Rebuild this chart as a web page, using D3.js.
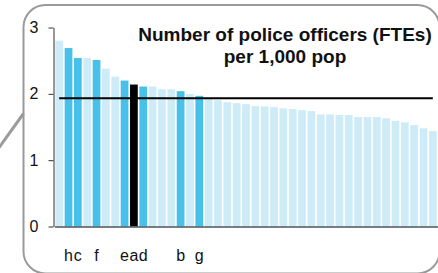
<!DOCTYPE html>
<html><head><meta charset="utf-8">
<script src="https://cdn.jsdelivr.net/npm/d3@7"></script>
<style>
html,body{margin:0;padding:0;background:#fff;}
svg{display:block;font-family:"Liberation Sans",Arial,sans-serif;}
</style></head>
<body>
<svg id="chart" width="438" height="273"></svg>
<script>
// Data
const values = [2.80,2.69,2.54,2.54,2.51,2.38,2.26,2.20,2.14,2.11,2.11,2.07,2.07,2.04,2.00,1.97,1.93,1.905,1.875,1.86,1.845,1.815,1.81,1.80,1.78,1.77,1.755,1.74,1.69,1.69,1.68,1.68,1.65,1.65,1.65,1.63,1.59,1.57,1.53,1.48,1.44];
const labels = ["","h","c","","f","","","e","a","d","","","","b","","g","","","","","","","","","","","","","","","","","","","","","","","","",""];
const groups = ["other","hl","hl","other","hl","other","other","hl","focus","hl","other","other","other","hl","other","hl","other","other","other","other","other","other","other","other","other","other","other","other","other","other","other","other","other","other","other","other","other","other","other","other","other"];
const average = 1.935;
const yTicks = [0,1,2,3];
const titleLines = ["Number of police officers (FTEs)","per 1,000 pop"];

const colors = {other:"#cdecf8", hl:"#48c1ea", focus:"#000000"};

const svg = d3.select("#chart");
const idx = d3.range(values.length);

const x = d3.scaleBand().domain(idx).range([54.5, 437.5]).paddingInner(0.17).paddingOuter(0.085);
const y = d3.scaleLinear().domain([0,3]).range([226.5, 27.5]);

// frame
svg.append("rect").attr("x",23.5).attr("y",5).attr("width",416).attr("height",268.5)
  .attr("rx",22).attr("fill","none").attr("stroke","#9a9a9a").attr("stroke-width",2);
// connector
svg.append("line").attr("x1",-2).attr("y1",149).attr("x2",23.5).attr("y2",113.5)
  .attr("stroke","#9a9a9a").attr("stroke-width",3);

// bars
svg.append("g").selectAll("rect").data(idx).join("rect")
  .attr("x", i => x(i)).attr("width", x.bandwidth())
  .attr("y", i => y(values[i])).attr("height", i => y(0) - y(values[i]))
  .attr("fill", i => colors[groups[i]]);

// average line
svg.append("line")
  .attr("x1", x(0) + x.bandwidth()/2).attr("x2", x(values.length-1) + x.bandwidth()/2)
  .attr("y1", y(average)).attr("y2", y(average))
  .attr("stroke","#000").attr("stroke-width",2);

// y axis
const ya = svg.append("g").attr("transform","translate(53.5,0)")
  .call(d3.axisLeft(y).tickValues(yTicks).tickSize(5).tickSizeOuter(0).tickPadding(10).tickFormat(d3.format("d")));
ya.select(".domain").attr("stroke","#333");
ya.selectAll(".tick line").attr("stroke","#333");
ya.selectAll(".tick text").attr("font-size",16).attr("fill","#111").attr("font-family","Liberation Sans, Arial, sans-serif");

// x axis
const xa = svg.append("g").attr("transform",`translate(0,${y(0)})`)
  .call(d3.axisBottom(x).tickSize(0).tickSizeOuter(0).tickPadding(23).tickFormat(i => labels[i]));
xa.select(".domain").attr("stroke","#4a5459").attr("stroke-width",1.6);
xa.selectAll(".tick text").attr("font-size",16).attr("fill","#111").attr("font-family","Liberation Sans, Arial, sans-serif");

// title
const t = svg.append("text").attr("text-anchor","middle").attr("font-weight","bold")
  .attr("font-size",19).attr("fill","#111");
titleLines.forEach((s,k) => t.append("tspan").attr("x",285).attr("y",41 + k*22).text(s));
</script>
</body></html>
